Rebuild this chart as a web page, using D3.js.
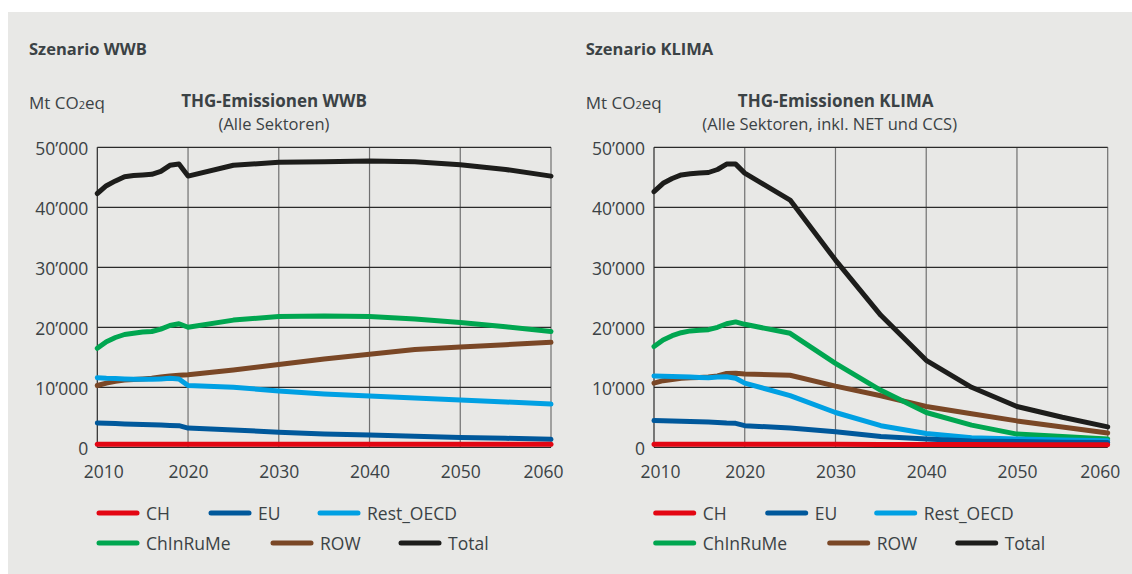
<!DOCTYPE html>
<html>
<head>
<meta charset="utf-8">
<script src="https://cdn.jsdelivr.net/npm/d3@7"></script>
<style>
  body { margin: 0; background: #fff; }
  svg text { font-family: "Open Sans", "Noto Sans", sans-serif; fill: #3b4245; }
</style>
</head>
<body>
<svg id="chart" width="1132" height="574"></svg>
<script>
// data
const years = [2010, 2011, 2012, 2013, 2014, 2015, 2016, 2017, 2018, 2019, 2020,
  2025, 2030, 2035, 2040, 2045, 2050, 2055, 2060];
const seriesNames = ["CH", "EU", "Rest_OECD", "ChInRuMe", "ROW", "Total"];
const xTicks = [2010, 2020, 2030, 2040, 2050, 2060];
const yTicks = [0, 10000, 20000, 30000, 40000, 50000];

// Szenario WWB
const wwbCH = [500, 500, 500, 500, 500, 500, 500, 500, 500, 500, 500,
  500, 500, 500, 500, 500, 500, 500, 500];
const wwbEU = [4050, 4000, 3950, 3900, 3850, 3800, 3750, 3700, 3650, 3600, 3200,
  2900, 2500, 2200, 2050, 1850, 1650, 1500, 1330];
const wwbRestOECD = [11600, 11500, 11450, 11400, 11350, 11330, 11330, 11400, 11500, 11400, 10300,
  10000, 9400, 8900, 8550, 8200, 7900, 7550, 7200];
const wwbChInRuMe = [16500, 17600, 18300, 18800, 19000, 19200, 19300, 19700, 20300, 20600, 20000,
  21200, 21800, 21900, 21800, 21400, 20800, 20100, 19300];
const wwbROW = [10300, 10700, 11000, 11200, 11300, 11400, 11500, 11700, 11900, 12000, 12100,
  12900, 13800, 14700, 15500, 16300, 16700, 17100, 17500];
const wwbTotal = [42300, 43600, 44400, 45100, 45300, 45400, 45500, 46000, 47000, 47200, 45200,
  47000, 47500, 47600, 47700, 47600, 47100, 46300, 45200];

// Szenario KLIMA
const klimaCH = [500, 500, 500, 500, 500, 500, 500, 500, 500, 500, 500,
  500, 500, 480, 460, 450, 440, 430, 420];
const klimaEU = [4450, 4420, 4400, 4350, 4300, 4250, 4200, 4150, 4050, 4000, 3600,
  3200, 2600, 1800, 1400, 1050, 950, 850, 780];
const klimaRestOECD = [11900, 11850, 11800, 11750, 11700, 11650, 11600, 11700, 11750, 11500, 10700,
  8600, 5800, 3600, 2300, 1600, 1400, 1200, 1100];
const klimaChInRuMe = [16800, 17900, 18600, 19100, 19400, 19500, 19600, 20000, 20600, 20900, 20500,
  19000, 14000, 9500, 5800, 3700, 2200, 1800, 1400];
const klimaROW = [10700, 11100, 11300, 11500, 11600, 11650, 11700, 11900, 12300, 12350, 12200,
  12000, 10200, 8600, 6800, 5600, 4400, 3400, 2400];
const klimaTotal = [42600, 44000, 44800, 45400, 45600, 45700, 45800, 46300, 47200, 47200, 45700,
  41200, 31200, 22000, 14500, 10000, 6800, 5000, 3400];

// colours per series
const colors = ["#e30613", "#00589b", "#00a0e3", "#00a650", "#7a4726", "#1d1d1b"];

var svg = d3.select("#chart");

// grey background panel
svg.append("rect")
  .attr("x", 8).attr("y", 12)
  .attr("width", 1124).attr("height", 562)
  .attr("fill", "#e8e8e6");

// number format 50'000
var fmt = d3.formatLocale({ decimal: ".", thousands: "\u2019", grouping: [3], currency: ["", ""] }).format(",");

function drawPanel(opt) {
  var g = svg.append("g").attr("transform", "translate(" + opt.dx + ",0)");

  var x = d3.scaleLinear().domain([2010, 2060]).range([97.3, 551]);
  var y = d3.scaleLinear().domain([0, 50000]).range([447.3, 147.3]);

  // headings
  g.append("text").attr("x", 29).attr("y", 55)
    .style("font-size", "16.5px").style("font-weight", "700")
    .text(opt.heading);

  var unit = g.append("text").attr("x", 29).attr("y", 109).style("font-size", "17px");
  unit.append("tspan").text("Mt CO");
  unit.append("tspan").style("font-size", "11px").text("2");
  unit.append("tspan").text("eq");

  g.append("text").attr("x", opt.titleX).attr("y", 107)
    .attr("text-anchor", "middle")
    .style("font-size", "17px").style("font-weight", "700")
    .text(opt.title);
  g.append("text").attr("x", opt.subX).attr("y", 130)
    .attr("text-anchor", "middle")
    .style("font-size", "16.5px")
    .text(opt.subtitle);

  // grid
  g.selectAll(".vgrid").data(xTicks).enter().append("line")
    .attr("x1", d => x(d)).attr("x2", d => x(d))
    .attr("y1", y(50000)).attr("y2", y(0))
    .attr("stroke", (d, i) => i == 0 ? "#2a2a2a" : "#707070")
    .attr("stroke-width", 1.2);
  g.selectAll(".hgrid").data(yTicks).enter().append("line")
    .attr("x1", x(2010)).attr("x2", x(2060))
    .attr("y1", d => y(d)).attr("y2", d => y(d))
    .attr("stroke", "#2a2a2a")
    .attr("stroke-width", 1.2);

  // axes (labels only)
  var yAxis = g.append("g").attr("transform", "translate(" + x(2010) + ",0)")
    .call(d3.axisLeft(y).tickValues(yTicks).tickSize(0).tickPadding(9).tickFormat(fmt));
  yAxis.select(".domain").remove();
  yAxis.selectAll("text").style("font-size", "17.5px").attr("dy", "0.4em").attr("fill", "#3b4245");

  var xAxis = g.append("g").attr("transform", "translate(0," + y(0) + ")")
    .call(d3.axisBottom(x).tickValues(xTicks).tickSize(0).tickPadding(18).tickFormat(d3.format("d")));
  xAxis.select(".domain").remove();
  xAxis.selectAll("text").style("font-size", "17.5px").attr("fill", "#3b4245")
    .attr("dx", (d, i) => i == 0 ? 6 : (i == xTicks.length - 1 ? -8 : 0));

  // lines, total drawn first, CH last
  var line = d3.line().x((d, i) => x(years[i])).y(d => y(d));
  for (var i = opt.series.length - 1; i >= 0; i--) {
    g.append("path")
      .attr("d", line(opt.series[i]))
      .attr("fill", "none")
      .attr("stroke", colors[i])
      .attr("stroke-width", 5)
      .attr("stroke-linejoin", "round")
      .attr("stroke-linecap", "round");
  }

  // legend
  var legendPos = [[97, 513], [209, 513], [318, 513], [97, 543], [271, 543], [399, 543]];
  var lg = g.selectAll(".legend").data(seriesNames).enter().append("g")
    .attr("transform", (d, i) => "translate(" + legendPos[i][0] + "," + legendPos[i][1] + ")");
  lg.append("line")
    .attr("x1", 2).attr("x2", 40)
    .attr("stroke", (d, i) => colors[i])
    .attr("stroke-width", 5)
    .attr("stroke-linecap", "round");
  lg.append("text")
    .attr("x", 49).attr("y", 7)
    .style("font-size", "17.5px")
    .text(d => d);
}

drawPanel({
  dx: 0,
  heading: "Szenario WWB",
  title: "THG-Emissionen WWB",
  subtitle: "(Alle Sektoren)",
  titleX: 274, subX: 274,
  series: [wwbCH, wwbEU, wwbRestOECD, wwbChInRuMe, wwbROW, wwbTotal]
});

drawPanel({
  dx: 556.7,
  heading: "Szenario KLIMA",
  title: "THG-Emissionen KLIMA",
  subtitle: "(Alle Sektoren, inkl. NET und CCS)",
  titleX: 279, subX: 273,
  series: [klimaCH, klimaEU, klimaRestOECD, klimaChInRuMe, klimaROW, klimaTotal]
});
</script>
</body>
</html>
